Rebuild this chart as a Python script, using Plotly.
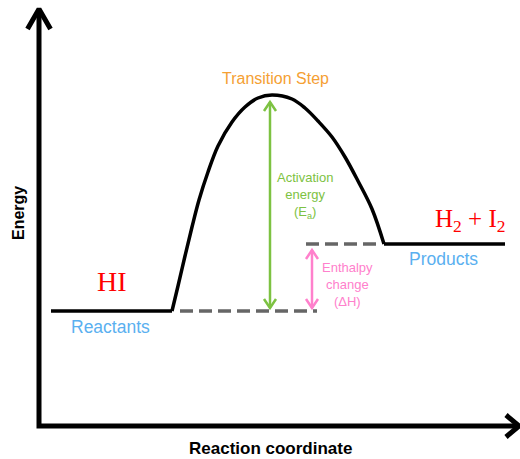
import plotly.graph_objects as go

# ---- data (reaction coordinate, energy) ----
reactant_x = [12, 133]
reactant_E = [115, 115]
barrier_x = [133, 139, 146, 153, 160, 169, 179, 193, 206, 219, 233, 253, 266, 279, 293, 306, 319, 333, 345]
barrier_E = [115, 140, 170, 199, 226, 254, 280, 304, 319, 328, 331, 327, 318, 305, 289, 269, 245, 217, 182]
product_x = [345, 466]
product_E = [182, 182]

E_react = 115
E_prod = 182
E_peak = 331
x_ea = 231          # activation energy arrow position
x_dh = 273          # enthalpy arrow position
react_dash_x = [141, 278]
prod_dash_x = [267, 342]

axis_x_end = 480
axis_y_end = 417

labels = {
    "transition": "Transition Step",
    "ea": "Activation<br>energy<br>(E<sub>a</sub>)",
    "dh": "Enthalpy<br>change<br>(ΔH)",
    "react": "Reactants",
    "prod": "Products",
    "react_f": "HI",
    "prod_f": "H<sub>2</sub> + I<sub>2</sub>",
    "xlab": "Reaction coordinate",
    "ylab": "Energy",
}

BLACK = "#000000"
GREEN = "#7DC242"
PINK = "#FF80CC"
BLUE = "#5AB0F0"
ORANGE = "#F5A033"
GRAY = "#666666"
RED = "#FF0000"

fig = go.Figure()

def line(xs, ys, color, width, dash=None, shape="linear", smoothing=1):
    fig.add_trace(go.Scatter(x=xs, y=ys, mode="lines", hoverinfo="skip",
                             line=dict(color=color, width=width, dash=dash, shape=shape,
                                       smoothing=smoothing),
                             showlegend=False))

# axes with open chevron heads
line([0, 0, axis_x_end], [axis_y_end, 0, 0], BLACK, 5)
line([-11.5, 0, 11.5], [axis_y_end - 20, axis_y_end, axis_y_end - 20], BLACK, 5)
line([axis_x_end - 13, axis_x_end, axis_x_end - 13], [11, 0, -11], BLACK, 5)

# dashed reference levels
line(react_dash_x, [E_react, E_react], GRAY, 3.5, dash="13px,6px")
line(prod_dash_x, [E_prod, E_prod], GRAY, 3.5, dash="13px,6px")

# energy profile
line(reactant_x, reactant_E, BLACK, 3.5)
line(barrier_x, barrier_E, BLACK, 3.5, shape="spline", smoothing=1)
line(product_x, product_E, BLACK, 3.5)

def double_arrow(x, y0, y1, color, w):
    line([x, x], [y0, y1], color, w)
    line([x - 6, x, x + 6], [y1 - 9, y1, y1 - 9], color, w)
    line([x - 6, x, x + 6], [y0 + 9, y0, y0 + 9], color, w)

double_arrow(x_ea, E_react + 3, E_peak - 7, GREEN, 2.5)
double_arrow(x_dh, E_react + 3, E_prod - 6, PINK, 2.5)

sans = "Liberation Sans, Arial, sans-serif"
serif = "Liberation Serif, Times New Roman, serif"

def txt(x, y, s, color, size, family=sans, angle=0, bold=False):
    if bold:
        s = "<b>" + s + "</b>"
    fig.add_annotation(x=x, y=y, text=s, showarrow=False, textangle=angle,
                       font=dict(color=color, size=size, family=family),
                       xanchor="center", yanchor="middle", align="center")

txt(236, 348, labels["transition"], ORANGE, 16)
txt(266, 231, labels["ea"], GREEN, 13)
txt(308, 142, labels["dh"], PINK, 13)
txt(71, 99, labels["react"], BLUE, 17.5)
txt(404, 167, labels["prod"], BLUE, 17.5)
txt(73, 145, labels["react_f"], RED, 28, family=serif)
txt(431, 206, labels["prod_f"], RED, 25, family=serif)
txt(231, -22, labels["xlab"], BLACK, 17, bold=True)
txt(-21, 213, labels["ylab"], BLACK, 16, angle=-90, bold=True)

fig.update_layout(
    width=520, height=459,
    margin=dict(l=0, r=0, t=0, b=0),
    plot_bgcolor="white", paper_bgcolor="white",
    xaxis=dict(range=[-39, 481], visible=False, fixedrange=True),
    yaxis=dict(range=[-33, 426], visible=False, fixedrange=True),
)

fig.write_html("out.html", config={"displayModeBar": False},
               post_script="document.body.style.margin='0px';document.body.style.overflow='hidden';")
